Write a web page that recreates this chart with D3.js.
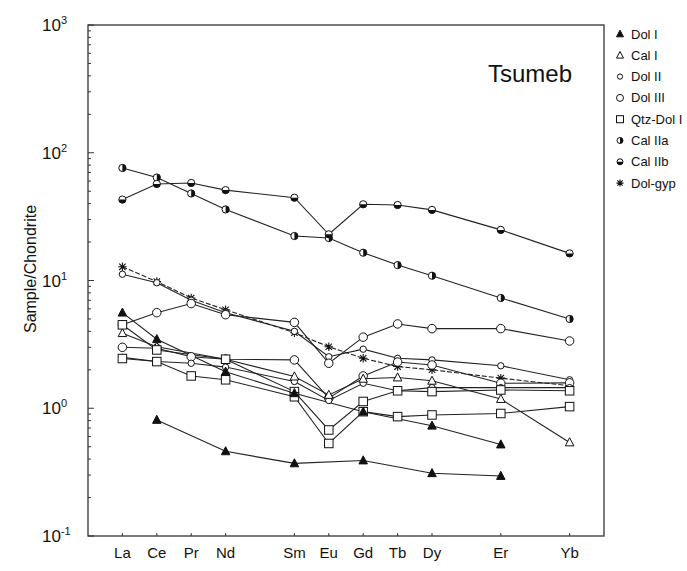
<!DOCTYPE html>
<html>
<head>
<meta charset="utf-8">
<script src="https://cdn.jsdelivr.net/npm/d3@7"></script>
<style>
  body { margin: 0; background: #fff; }
  svg { font-family: "Liberation Sans", Arial, sans-serif; }
</style>
</head>
<body>
<div id="chart"></div>
<script>
// REE, chondrite normalised
const elements = ["La", "Ce", "Pr", "Nd", "Sm", "Eu", "Gd", "Tb", "Dy", "Er", "Yb"];
const atomicNo = [57, 58, 59, 60, 62, 63, 64, 65, 66, 68, 70];

const calIIa = [76, 64, 48, 36, 22.3, 21.5, 16.5, 13.2, 10.9, 7.3, 5.0];
const calIIb = [43, 57, 58, 51, 44.5, 23, 39.5, 39, 35.7, 24.9, 16.3];
const dolGyp = [12.8, 9.8, 7.3, 5.9, 3.9, 3.03, 2.46, 2.12, 2.0, 1.72, 1.5];
const dolIIa = [11.2, 9.6, 7.0, 5.6, 4.0, 2.53, 2.9, 2.46, 2.39, 2.15, 1.67];
const dolIIIa = [4.5, 5.6, 6.6, 5.4, 4.7, 2.25, 3.6, 4.57, 4.2, 4.2, 3.36];
const dolIIIb = [3.0, 2.95, 2.53, 2.42, 2.39, 1.2, 1.79, 2.3, 2.18, 1.57, 1.58];
const dolIIb = [2.5, 2.32, 2.25, 2.1, 1.62, 1.15, 1.57, 1.37, 1.45, 1.45, 1.45];
const dolIa = [5.6, 3.47, null, 1.93, 1.31, null, 0.94, null, 0.73, 0.52, null];
const dolIb = [null, 0.81, null, 0.46, 0.37, null, 0.39, null, 0.31, 0.295, null];
const calI = [3.87, 3.03, null, 2.42, 1.77, 1.27, 1.7, 1.74, 1.64, 1.18, 0.54];
const qtzDolIa = [4.5, 2.86, null, 2.42, 1.35, 0.676, 1.13, 1.37, 1.35, 1.39, 1.37];
const qtzDolIb = [2.45, 2.32, 1.79, 1.67, 1.23, 0.53, 0.94, 0.86, 0.886, 0.91, 1.03];

const legendNames = ["Dol I", "Cal I", "Dol II", "Dol III", "Qtz-Dol I", "Cal IIa", "Cal IIb", "Dol-gyp"];
const legendMarks = ["triFill", "tri", "circleSmall", "circle", "square", "halfRight", "halfBottom", "star"];

const series = [
  { values: calIIa, mark: "halfRight" },
  { values: calIIb, mark: "halfBottom" },
  { values: dolGyp, mark: "star", dash: "5,2" },
  { values: dolIIa, mark: "circleSmall" },
  { values: dolIIIa, mark: "circle" },
  { values: dolIIIb, mark: "circle" },
  { values: dolIIb, mark: "circleSmall" },
  { values: calI, mark: "tri" },
  { values: qtzDolIa, mark: "square" },
  { values: qtzDolIb, mark: "square" },
  { values: dolIa, mark: "triFill" },
  { values: dolIb, mark: "triFill" }
];

const W = 687, H = 571;
const frame = { left: 88, right: 604, top: 25, bottom: 536 };

const svg = d3.select("#chart").append("svg")
  .attr("width", W).attr("height", H);

const x = d3.scaleLinear().domain([56, 71]).range([frame.left, frame.right]);
const y = d3.scaleLog().domain([0.1, 1000]).range([frame.bottom, frame.top]);

// frame
svg.append("rect")
  .attr("x", frame.left).attr("y", frame.top)
  .attr("width", frame.right - frame.left)
  .attr("height", frame.bottom - frame.top)
  .attr("fill", "none").attr("stroke", "#333").attr("stroke-width", 1.3);

// y ticks (inward)
const yTicks = y.ticks();
svg.append("g").selectAll("line").data(yTicks).join("line")
  .attr("x1", frame.left)
  .attr("x2", d => frame.left + (Math.abs(Math.log10(d) - Math.round(Math.log10(d))) < 1e-6 ? 6 : 3))
  .attr("y1", d => y(d)).attr("y2", d => y(d))
  .attr("stroke", "#333").attr("stroke-width", 1);

const decades = [0.1, 1, 10, 100, 1000];
const yLab = svg.append("g").selectAll("text").data(decades).join("text")
  .attr("x", 42).attr("y", d => y(d) + 6)
  .attr("font-size", 17).attr("fill", "#111");
yLab.append("tspan").text("10");
yLab.append("tspan").attr("dy", -7).attr("font-size", 11)
  .text(d => String(Math.round(Math.log10(d))));

svg.append("text")
  .attr("transform", "translate(36,269) rotate(-90)")
  .attr("text-anchor", "middle")
  .attr("font-size", 16).attr("fill", "#111")
  .text("Sample/Chondrite");

// x ticks and labels
svg.append("g").selectAll("line").data(atomicNo).join("line")
  .attr("x1", d => x(d)).attr("x2", d => x(d))
  .attr("y1", frame.bottom).attr("y2", frame.bottom - 3)
  .attr("stroke", "#333");

svg.append("g").selectAll("text").data(elements).join("text")
  .attr("x", (d, i) => x(atomicNo[i]))
  .attr("y", 558)
  .attr("text-anchor", "middle")
  .attr("font-size", 15).attr("fill", "#111")
  .text(d => d);

svg.append("text")
  .attr("x", 572).attr("y", 82)
  .attr("text-anchor", "end")
  .attr("font-size", 24).attr("fill", "#111")
  .text("Tsumeb");

// markers
function drawMark(g, type, s) {
  const r = s / 2;
  if (type === "triFill" || type === "tri") {
    g.append("path")
      .attr("d", `M0,${-r * 1.1}L${r},${r * 0.8}L${-r},${r * 0.8}Z`)
      .attr("fill", type === "triFill" ? "#111" : "#fff")
      .attr("stroke", "#111").attr("stroke-width", 1);
  } else if (type === "circle" || type === "circleSmall") {
    g.append("circle").attr("r", type === "circle" ? r : r * 0.75)
      .attr("fill", "#fff").attr("stroke", "#111").attr("stroke-width", 1);
  } else if (type === "square") {
    g.append("rect").attr("x", -r).attr("y", -r).attr("width", s).attr("height", s)
      .attr("fill", "#fff").attr("stroke", "#111").attr("stroke-width", 1);
  } else if (type === "halfRight" || type === "halfBottom") {
    const rr = r * 0.85;
    g.append("circle").attr("r", rr)
      .attr("fill", "#fff").attr("stroke", "#111").attr("stroke-width", 1);
    g.append("path")
      .attr("d", type === "halfRight"
        ? `M0,${-rr}A${rr},${rr} 0 0 1 0,${rr}Z`
        : `M${-rr},0A${rr},${rr} 0 0 0 ${rr},0Z`)
      .attr("fill", "#111");
  } else if (type === "star") {
    const a = r;
    g.append("path")
      .attr("d", `M${-a},0L${a},0M0,${-a}L0,${a}M${-a * 0.75},${-a * 0.75}L${a * 0.75},${a * 0.75}M${-a * 0.75},${a * 0.75}L${a * 0.75},${-a * 0.75}`)
      .attr("stroke", "#111").attr("stroke-width", 1.1).attr("fill", "none");
  }
}

const line = d3.line().x(d => x(d.n)).y(d => y(d.v));

series.forEach(s => {
  const pts = s.values
    .map((v, i) => ({ n: atomicNo[i], v }))
    .filter(d => d.v != null);
  svg.append("path")
    .attr("d", line(pts))
    .attr("fill", "none")
    .attr("stroke", "#222")
    .attr("stroke-width", 1.1)
    .attr("stroke-dasharray", s.dash || null);
});

series.forEach(s => {
  s.values.forEach((v, i) => {
    if (v == null) return;
    const g = svg.append("g").attr("transform", `translate(${x(atomicNo[i])},${y(v)})`);
    drawMark(g, s.mark, 8.5);
  });
});

// legend
const leg = svg.append("g");
legendNames.forEach((name, i) => {
  const yy = 34 + i * 21.3;
  const g = leg.append("g").attr("transform", `translate(620,${yy})`);
  drawMark(g, legendMarks[i], 7);
  leg.append("text")
    .attr("x", 631).attr("y", yy + 4.5)
    .attr("font-size", 13).attr("fill", "#111")
    .text(name);
});
</script>
</body>
</html>
